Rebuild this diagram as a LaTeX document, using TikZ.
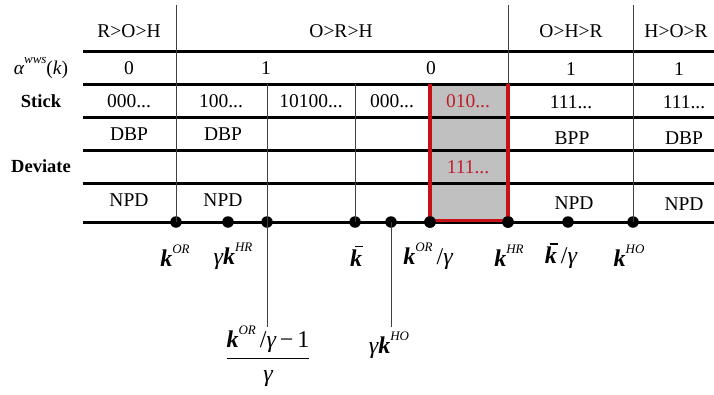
\documentclass[tikz,border=0pt]{standalone}
\usepackage{fontspec}
\setmainfont{Liberation Serif}
\definecolor{boxred}{RGB}{200,16,24}
\definecolor{boxgray}{RGB}{192,192,192}
\definecolor{redtext}{RGB}{190,30,40}
\newcommand\kk{{\bfseries\itshape k}}
\newcommand\supit[1]{\raisebox{0.55em}{\fontsize{13}{13}\selectfont\itshape #1}}
\newcommand\gam{{\itshape γ}}
% k with a short bar drawn above it
\newcommand\kbar{\leavevmode\rlap{\kern0.2em\rule[0.8em]{0.34em}{0.055em}}\kk}
\tikzset{
  rule/.style={line width=3pt},
  sep/.style={line width=0.9pt, draw=black!75},
  redline/.style={line width=3.2pt, draw=boxred},
  cell/.style={font=\fontsize{19.5}{21}\selectfont, inner sep=0pt},
  redcell/.style={cell, text=redtext},
  rowlabel/.style={font=\fontsize{18.5}{20}\selectfont\bfseries, inner sep=0pt},
  axlabel/.style={font=\fontsize{24}{26}\selectfont, inner sep=0pt},
  dot/.style={circle, fill=black, inner sep=0pt, minimum size=11.5pt},
}
\begin{document}
\begin{tikzpicture}[x=1pt,y=-1pt]
\useasboundingbox (0,0) rectangle (714,394);

% shaded column with red frame
\fill[boxgray] (430,84) rectangle (508,221);

% horizontal rules of the table and the axis
\coordinate (l1) at (83,51);  \coordinate (r1) at (714,51);
\coordinate (l2) at (83,84);  \coordinate (r2) at (714,84);
\coordinate (l3) at (83,117); \coordinate (r3) at (714,117);
\coordinate (l4) at (83,150); \coordinate (r4) at (714,150);
\coordinate (l5) at (83,183); \coordinate (r5) at (714,183);
\coordinate (l6) at (83,222); \coordinate (r6) at (714,222);
\foreach \i in {1,...,6} \draw[rule] (l\i) -- (r\i);

% points on the axis
\node[dot] (d1) at (176,222) {};
\node[dot] (d2) at (228,222) {};
\node[dot] (d3) at (267,222) {};
\node[dot] (d4) at (355,222) {};
\node[dot] (d5) at (391,222) {};
\node[dot] (d6) at (430,222) {};
\node[dot] (d7) at (508,222) {};
\node[dot] (d8) at (568,222) {};
\node[dot] (d9) at (633,222) {};

% column separators
\coordinate (t1) at (176,5);
\coordinate (t7) at (508,5);
\coordinate (t9) at (633,5);
\coordinate (m3) at (267,84);
\coordinate (m4) at (355,84);
\coordinate (b3) at (267,327);
\coordinate (b5) at (391,327);
\draw[sep] (t1) -- (d1.center);
\draw[sep] (t7) -- (d7.center);
\draw[sep] (t9) -- (d9.center);
\draw[sep] (m3) -- (b3);
\draw[sep] (m4) -- (d4.center);
\draw[sep] (d5.center) -- (b5);

% red frame
\coordinate (rt6) at (430,84);
\coordinate (rt7) at (508,84);
\draw[redline] (rt6) -- (430,220.5) -- (508,220.5) -- (rt7);
\node[dot] at (d6) {};
\node[dot] at (d7) {};

% row labels
\node[rowlabel, font=\fontsize{19.5}{21}\selectfont] (alab) at (41,68) {\itshape α\supit{wws}\upshape(\itshape k\upshape)};
\node[rowlabel] (slab) at (41,101) {Stick};
\node[rowlabel] (dlab) at (41,166) {Deviate};

% header row
\node[cell] (h1) at (129,31) {R>O>H};
\node[cell] (h2) at (341,31) {O>R>H};
\node[cell] (h3) at (571,31) {O>H>R};
\node[cell] (h4) at (676,31) {H>O>R};

% alpha row
\node[cell] (a1) at (129,68) {0};
\node[cell] (a2) at (266,68) {1};
\node[cell] (a3) at (431,68) {0};
\node[cell] (a4) at (571,69) {1};
\node[cell] (a5) at (679,69) {1};

% stick row
\node[cell] (s1) at (129,101) {000...};
\node[cell] (s2) at (221,101) {100...};
\node[cell] (s3) at (311,101) {10100...};
\node[cell] (s4) at (392,101) {000...};
\node[redcell] (s5) at (468,101) {010...};
\node[cell] (s6) at (571,102) {111...};
\node[cell] (s7) at (684,102) {111...};

% second stick row
\node[cell] (p1) at (129,134) {DBP};
\node[cell] (p2) at (223,134) {DBP};
\node[cell] (p3) at (572,138) {BPP};
\node[cell] (p4) at (684,138) {DBP};

% deviate row
\node[redcell] (v1) at (468,167) {111...};

% NPD row
\node[cell] (n1) at (129,200) {NPD};
\node[cell] (n2) at (223,200) {NPD};
\node[cell] (n3) at (574,203) {NPD};
\node[cell] (n4) at (684,204) {NPD};

% axis labels
\node[axlabel] (k1) at (175,256) {\kk\supit{OR}};
\node[axlabel] (k2) at (233,256) {\gam\kk\supit{HR}};
\node[axlabel] (k3) at (356,256) {\kbar};
\node[axlabel] (k4) at (428,256) {\kk\supit{OR}\,/\gam};
\node[axlabel] (k5) at (509,256) {\kk\supit{HR}};
\node[axlabel] (k6) at (561,256) {\kbar\,/\gam};
\node[axlabel] (k7) at (629,256) {\kk\supit{HO}};
\node[axlabel] (k8) at (268,356) {$\displaystyle\frac{\hbox{\kk\supit{OR}\,/\gam\,−\,1}}{\hbox{\gam}}$};
\node[axlabel] (k9) at (389,345) {\gam\kk\supit{HO}};
\end{tikzpicture}
\end{document}
